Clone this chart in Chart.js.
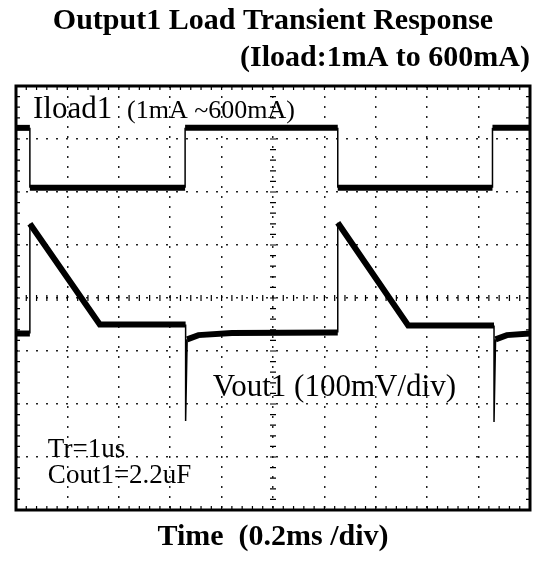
<!DOCTYPE html>
<html>
<head>
<meta charset="utf-8">
<script src="https://cdn.jsdelivr.net/npm/chart.js@4.4.1/dist/chart.umd.min.js"></script>
<style>
  html, body { margin: 0; padding: 0; background: #fff; }
  #wrap { width: 541px; height: 563px; position: relative; }
</style>
</head>
<body>
<div id="wrap"><canvas id="scope"></canvas></div>
<script>
// Başlıklar
const chartTitle = 'Output1 Load Transient Response';
const chartSubtitle = '(Iload:1mA to 600mA)';
const xAxisTitle = 'Time  (0.2ms /div)';

// Ekran: 10 yatay bölme (0.2ms/div), 8 dikey bölme
const xDivs = 10;
const yDivs = 8;

// Iload1 izi (bölme cinsinden)
const iloadTime  = [0, 0.27, 0.27, 3.29, 3.29, 6.26, 6.26, 9.27, 9.27, 10];
const iloadLevel = [7.21, 7.21, 6.08, 6.08, 7.21, 7.21, 6.08, 6.08, 7.21, 7.21];

// Vout1 izi (bölme cinsinden)
const voutTime  = [0, 0.27, 0.27, 1.63, 3.30, 3.30, 3.33, 3.55, 4.20, 6.26, 6.26, 7.63, 9.30, 9.30, 9.33, 9.55, 10];
const voutLevel = [3.33, 3.33, 5.40, 3.50, 3.50, 1.68, 3.22, 3.30, 3.34, 3.35, 5.42, 3.48, 3.48, 1.66, 3.22, 3.30, 3.33];

// Ekran üzerindeki yazılar
const notes = [
    { text: 'Iload1', x: 0.33, y: 7.40, size: 31 },
    { text: '(1mA ~600mA)', x: 2.16, y: 7.40, size: 26 },
    { text: 'Vout1 (100mV/div)', x: 3.83, y: 2.15, size: 31 },
    { text: 'Tr=1us', x: 0.62, y: 1.00, size: 27 },
    { text: 'Cout1=2.2uF', x: 0.62, y: 0.51, size: 27 }
];

const serif = "'Liberation Serif', 'DejaVu Serif', serif";

function toPoints(xs, ys) {
    return xs.map((t, i) => ({ x: t, y: ys[i] }));
}

// Dikey kenarlar ince, yatay kısımlar kalın çizilsin
const edgeWidth = ctx => Math.abs(ctx.p0.x - ctx.p1.x) < 2 ? 1.5 : 6;

// Çerçeve, küçük bölme çentikleri ve yazılar
const scopeFrame = {
    id: 'scopeFrame',
    afterDraw(chart) {
        const { ctx, chartArea: a, scales: { x, y } } = chart;
        ctx.save();
        ctx.strokeStyle = '#000';
        ctx.lineWidth = 1.2;
        ctx.beginPath();
        const cx = x.getPixelForValue(xDivs / 2);
        const cy = y.getPixelForValue(yDivs / 2);
        for (let i = 0; i <= xDivs * 5; i++) {
            const px = x.getPixelForValue(i / 5);
            ctx.moveTo(px, a.top); ctx.lineTo(px, a.top + 4);
            ctx.moveTo(px, a.bottom); ctx.lineTo(px, a.bottom - 4);
            ctx.moveTo(px, cy - 3); ctx.lineTo(px, cy + 3);
        }
        for (let i = 0; i <= yDivs * 5; i++) {
            const py = y.getPixelForValue(i / 5);
            ctx.moveTo(a.left, py); ctx.lineTo(a.left + 4, py);
            ctx.moveTo(a.right, py); ctx.lineTo(a.right - 4, py);
            ctx.moveTo(cx - 3, py); ctx.lineTo(cx + 3, py);
        }
        ctx.stroke();

        ctx.lineWidth = 3;
        ctx.strokeRect(a.left, a.top, a.right - a.left, a.bottom - a.top);

        ctx.fillStyle = '#000';
        ctx.textAlign = 'left';
        ctx.textBaseline = 'alphabetic';
        notes.forEach(n => {
            ctx.font = `${n.size}px ${serif}`;
            ctx.fillText(n.text, x.getPixelForValue(n.x), y.getPixelForValue(n.y));
        });
        ctx.restore();
    }
};

const gridStyle = {
    color: '#222',
    lineWidth: 1.5,
    drawTicks: false
};

new Chart(document.getElementById('scope'), {
    type: 'scatter',
    data: {
        datasets: [
            {
                label: 'Iload1',
                data: toPoints(iloadTime, iloadLevel),
                showLine: true,
                borderColor: '#000',
                borderWidth: 6,
                pointRadius: 0,
                segment: { borderWidth: edgeWidth }
            },
            {
                label: 'Vout1',
                data: toPoints(voutTime, voutLevel),
                showLine: true,
                borderColor: '#000',
                borderWidth: 6,
                pointRadius: 0,
                segment: { borderWidth: edgeWidth }
            }
        ]
    },
    options: {
        responsive: true,
        maintainAspectRatio: false,
        animation: false,
        layout: { padding: { left: 16, right: 11, top: 3, bottom: 4 } },
        plugins: {
            legend: { display: false },
            tooltip: { enabled: false },
            title: {
                display: true,
                text: chartTitle,
                align: 'center',
                color: '#000',
                font: { family: serif, size: 30, weight: 'bold' },
                padding: { top: 0, bottom: 0 }
            },
            subtitle: {
                display: true,
                text: chartSubtitle,
                align: 'end',
                color: '#000',
                font: { family: serif, size: 30, weight: 'bold' },
                padding: { top: 1, bottom: 10 }
            }
        },
        scales: {
            x: {
                type: 'linear',
                min: 0,
                max: xDivs,
                ticks: { display: false, stepSize: 1 },
                grid: gridStyle,
                border: { display: false, dash: [2, 8] },
                title: {
                    display: true,
                    text: xAxisTitle,
                    color: '#000',
                    font: { family: serif, size: 30, weight: 'bold' },
                    padding: { top: 9, bottom: 4 }
                }
            },
            y: {
                type: 'linear',
                min: 0,
                max: yDivs,
                ticks: { display: false, stepSize: 1 },
                grid: gridStyle,
                border: { display: false, dash: [2, 8] }
            }
        }
    },
    plugins: [scopeFrame]
});
</script>
</body>
</html>
